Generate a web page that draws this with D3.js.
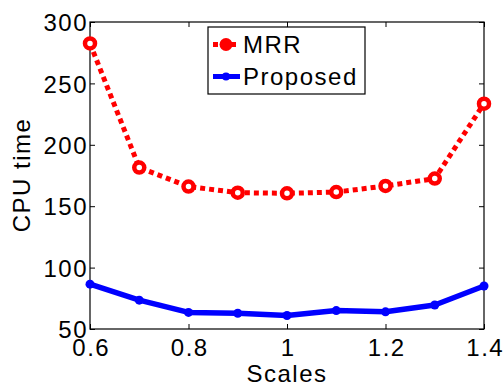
<!DOCTYPE html>
<html><head><meta charset="utf-8">
<script src="https://cdn.jsdelivr.net/npm/d3@7"></script>
<style>body{margin:0;background:#fff}svg{display:block}text{font-family:"Liberation Sans",Arial,sans-serif;fill:#000;letter-spacing:1.5px}</style>
</head><body><svg id="c" width="503" height="387"></svg>
<script>
const scales = [0.6,0.7,0.8,0.9,1.0,1.1,1.2,1.3,1.4];
const mrr = [282.5,181.5,166,161,160.5,161.5,166.5,172.5,233.5];
const proposed = [86.5,73.5,63.5,62.8,61,65,64,69.5,85];
const xTicks = [0.6,0.8,1,1.2,1.4];
const yTicks = [50,100,150,200,250,300];
const seriesNames = ["MRR","Proposed"];

const svg = d3.select("#c");
const L=90,R=484,T=22,B=329;
const x = d3.scaleLinear().domain([0.6,1.4]).range([L,R]);
const y = d3.scaleLinear().domain([50,300]).range([B,T]);
const fs = 24;

svg.append("rect").attr("x",L).attr("y",T).attr("width",R-L).attr("height",B-T)
  .attr("fill","none").attr("stroke","#000").attr("stroke-width",1.2);

const tl=5;
const gB = svg.append("g").attr("transform",`translate(0,${B})`)
  .call(d3.axisBottom(x).tickValues(xTicks).tickSize(-tl).tickFormat(d=>String(d)));
const gT = svg.append("g").attr("transform",`translate(0,${T})`)
  .call(d3.axisTop(x).tickValues(xTicks).tickSize(-tl).tickFormat(""));
const gL = svg.append("g").attr("transform",`translate(${L},0)`)
  .call(d3.axisLeft(y).tickValues(yTicks).tickSize(-tl).tickPadding(2));
const gR = svg.append("g").attr("transform",`translate(${R},0)`)
  .call(d3.axisRight(y).tickValues(yTicks).tickSize(-tl).tickFormat(""));
[gB,gT,gL,gR].forEach(g=>{g.select(".domain").remove();g.selectAll("line").attr("stroke","#000").attr("stroke-width",1);
  g.selectAll("text").attr("font-size",fs).attr("font-family","Liberation Sans, Arial, sans-serif").attr("fill","#000");});
gB.selectAll("text").attr("dy",null).attr("y",27).attr("dx","0.75");
gL.selectAll("text").attr("dy","0.36em");

svg.append("text").attr("x",(L+R)/2).attr("y",382).attr("text-anchor","middle").attr("font-size",24).text("Scales");
svg.append("text").attr("transform","translate(30,175) rotate(-90)").attr("text-anchor","middle").attr("font-size",24).text("CPU time");

const line = d3.line().x((d,i)=>x(scales[i])).y(d=>y(d));

svg.append("path").datum(mrr).attr("d",line).attr("fill","none").attr("stroke","#ff0000")
  .attr("stroke-width",5).attr("stroke-dasharray","5,4");
svg.selectAll(".m1").data(mrr).enter().append("circle")
  .attr("cx",(d,i)=>x(scales[i])).attr("cy",d=>y(d)).attr("r",5)
  .attr("fill","#fff").attr("stroke","#ff0000").attr("stroke-width",4.5);

svg.append("path").datum(proposed).attr("d",line).attr("fill","none").attr("stroke","#0000ff")
  .attr("stroke-width",5.5).attr("stroke-linejoin","round");
svg.selectAll(".m2").data(proposed).enter().append("circle")
  .attr("cx",(d,i)=>x(scales[i])).attr("cy",d=>y(d)).attr("r",4.5).attr("fill","#0000ff");

const lg = svg.append("g");
lg.append("rect").attr("x",208).attr("y",27).attr("width",157).attr("height",67)
  .attr("fill","#fff").attr("stroke","#000").attr("stroke-width",1.2);
const rows=[{name:seriesNames[0],c:"#ff0000",dash:"5,4",yy:44.5},{name:seriesNames[1],c:"#0000ff",dash:null,yy:76.5}];
rows.forEach((r,i)=>{
  lg.append("line").attr("x1",213).attr("x2",240).attr("y1",r.yy).attr("y2",r.yy)
    .attr("stroke",r.c).attr("stroke-width",5).attr("stroke-dasharray",r.dash);
  lg.append("circle").attr("cx",226).attr("cy",r.yy).attr("r",i===0?6.5:4).attr("fill",r.c);
  lg.append("text").attr("x",243).attr("y",r.yy+8.5).attr("font-size",24).text(r.name);
});
</script></body></html>
